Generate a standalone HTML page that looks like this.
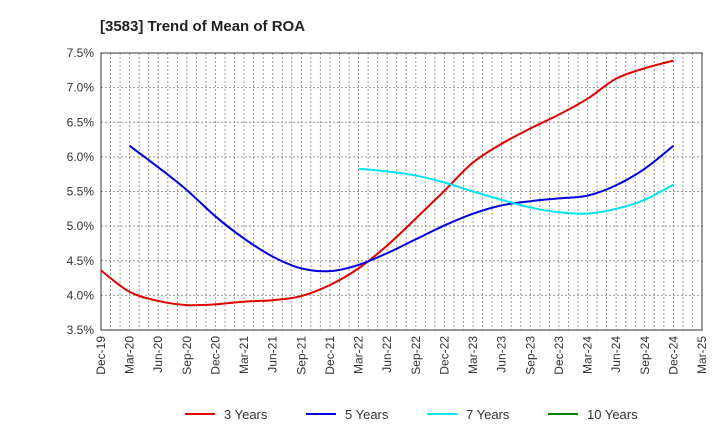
<!DOCTYPE html>
<html><head><meta charset="utf-8"><style>body{margin:0;background:#fff}svg{font-family:"Liberation Sans",sans-serif}</style></head>
<body>
<svg id="c" width="720" height="440"></svg>
<script>
const xLabels=["Dec-19","Mar-20","Jun-20","Sep-20","Dec-20","Mar-21","Jun-21","Sep-21","Dec-21","Mar-22","Jun-22","Sep-22","Dec-22","Mar-23","Jun-23","Sep-23","Dec-23","Mar-24","Jun-24","Sep-24","Dec-24","Mar-25"];
const yTicks=[3.5,4.0,4.5,5.0,5.5,6.0,6.5,7.0,7.5];
const s3=[4.36,4.05,3.92,3.86,3.87,3.91,3.93,3.99,4.15,4.39,4.72,5.11,5.51,5.92,6.19,6.41,6.61,6.84,7.13,7.28,7.39];
const s3Start=0;
const s5=[6.16,5.85,5.52,5.14,4.82,4.56,4.39,4.35,4.44,4.61,4.81,5.01,5.18,5.30,5.36,5.40,5.44,5.59,5.83,6.16];
const s5Start=1;
const s7=[5.83,5.79,5.73,5.63,5.50,5.38,5.27,5.20,5.18,5.25,5.38,5.60];
const s7Start=9;
const s10=[];
const L=101,R=702,T=53,B=330;
const X=i=>L+(R-L)*i/21;
const Y=v=>B-(v-3.5)/4*(B-T);
const svg=document.getElementById('c');const NS='http://www.w3.org/2000/svg';
function mk(t,a,txt){const e=document.createElementNS(NS,t);for(const k in a)e.setAttribute(k,a[k]);if(txt!=null)e.textContent=txt;svg.appendChild(e);return e;}
let e=mk('text',{x:100,y:31,'font-size':15,'font-weight':'bold',fill:'#222'},'[3583]  Trend of Mean of ROA');

for(let m=1;m<63;m++){const x=L+(R-L)*m/63;e=mk('line',{x1:x,x2:x,y1:T,y2:B,stroke:'#999','stroke-dasharray':'2,2','stroke-width':1});
}
yTicks.forEach(v=>{const y=Y(v);e=mk('line',{x1:L,x2:R,y1:y,y2:y,stroke:'#999','stroke-dasharray':'2,2'});

e=mk('text',{x:L-7,y:y+4,'text-anchor':'end','font-size':12,fill:'#333'},v.toFixed(1)+'%');
});
e=mk('rect',{x:L,y:T,width:R-L,height:B-T,fill:'none',stroke:'#333'});

xLabels.forEach((l,i)=>{const x=X(i);e=mk('text',{transform:`translate(${x+4},${B+6}) rotate(-90)`,'text-anchor':'end','font-size':12,fill:'#333'},l);
});
function path(vals,st){const p=vals.map((v,i)=>[X(i+st),Y(v)]);if(p.length<2)return '';let d=`M${p[0][0]},${p[0][1]}`;
for(let i=0;i<p.length-1;i++){const p0=p[i-1]||p[i],p1=p[i],p2=p[i+1],p3=p[i+2]||p2;
d+=`C${p1[0]+(p2[0]-p0[0])/6},${p1[1]+(p2[1]-p0[1])/6} ${p2[0]-(p3[0]-p1[0])/6},${p2[1]-(p3[1]-p1[1])/6} ${p2[0]},${p2[1]}`;}return d;}
[[s3,s3Start,'#e00000','series-3-years'],[s5,s5Start,'#0000dd','series-5-years'],[s7,s7Start,'#00e5ee','series-7-years'],[s10,0,'#008000','series-10-years']].forEach(s=>{
if(!s[0].length)return;e=mk('path',{d:path(s[0],s[1]),fill:'none',stroke:s[2],'stroke-width':2});
});
[['3 Years','#e00000',185],['5 Years','#0000dd',306],['7 Years','#00e5ee',427],['10 Years','#008000',548]].forEach(l=>{
e=mk('line',{x1:l[2],x2:l[2]+30,y1:414,y2:414,stroke:l[1],'stroke-width':2});

e=mk('text',{x:l[2]+39,y:419,'font-size':13,fill:'#333'},l[0]);
});
</script>
</body></html>
